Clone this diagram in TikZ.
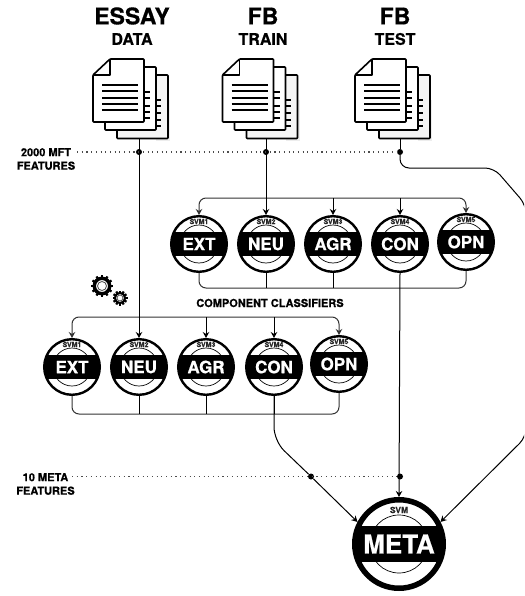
\documentclass[tikz,border=0pt]{standalone}
\usepackage{fontspec}
\setmainfont[BoldFeatures={FakeBold=0.6}]{TeX Gyre Heros}
\usepackage{tikz}
\usetikzlibrary{arrows.meta}

\tikzset{
  >={Stealth[length=6pt,width=6.5pt]},
  svmring/.style 2 args={circle,draw=black,fill=white,inner sep=0pt,text=white,
    path picture={
      \draw[line width=.7pt] (path picture bounding box.center) circle (#1);
      \fill[black] ([shift={(-60pt,#2)}]path picture bounding box.center) rectangle ([shift={(60pt,-#2)}]path picture bounding box.center);
    }},
  svmunit/.style={svmring={19pt}{12pt},line width=2.4pt,minimum size=55.6pt,font=\fontsize{17}{18}\bfseries},
  svmmeta/.style={svmring={29pt}{18pt},line width=5.5pt,minimum size=88.5pt,font=\fontsize{26}{28}\bfseries},
  svmtag/.style={inner sep=0pt,text=black!85,font=\fontsize{7}{8}\bfseries},
  wire/.style={line width=1pt,black},
  bus/.style={line width=1pt,black!80,rounded corners=7pt},
  dotline/.style={line width=1.1pt,black!70,dash pattern=on 1.1pt off 3.6pt},
  joint/.style={circle,fill=black,inner sep=0pt,minimum size=6pt},
  sidelabel/.style={align=center,inner sep=1pt,font=\fontsize{11}{13.5}\bfseries},
  sheet/.style={line width=1.6pt,line join=round,fill=white,rounded corners=.8pt},
}

\begin{document}
\begin{tikzpicture}[x=1pt,y=-1pt]
\clip[use as bounding box] (0,0) rectangle (524,596);
%
% titulos
\foreach \nm/\cx/\big/\small in {ess/132/ESSAY/DATA,trn/263/FB/TRAIN,tst/395/FB/TEST} {
  \node[inner sep=0pt,font=\fontsize{23}{24}\bfseries] (\nm big) at (\cx,16) {\big};
  \node[inner sep=0pt,font=\fontsize{16}{17}\bfseries] (\nm small) at (\cx,39) {\small};
}
%
% hojas
\foreach \dx in {0,129.5,262} {
\begin{scope}[shift={(\dx,0)}]
  \fill[black!7] (156,100) rectangle (170,141);
  \draw[sheet,fill=black!4] (117,75) rectangle (168,138.5);
  \foreach \yy in {100,106,113,120,126}
    \draw[line width=1.6pt] (150,\yy) -- (161,\yy);
  \draw[sheet] (105,67) rectangle (156,130);
  \foreach \yy in {92,98,106,112,118}
    \draw[line width=1.6pt] (140,\yy) -- (150,\yy);
  \draw[sheet] (110,59) -- (144,59) -- (144,122) -- (93,122) -- (93,75) -- cycle;
  \draw[line width=1.6pt,line join=round] (110,59) -- (110,75) -- (93,75);
  \foreach \yy in {85,91,98,104,110}
    \draw[line width=1.6pt] (102,\yy) -- (138,\yy);
\end{scope}
}
\coordinate (dess) at (139,139);
\coordinate (dtrn) at (266,139);
\coordinate (dtst) at (400,139);
%
% clasificadores
\foreach \nm/\cx/\cy/\sv/\lab in {t1/199/244/SVM1/EXT,t2/266/244/SVM2/NEU,t3/333/244/SVM3/AGR,
    t4/400/244/SVM4/CON,t5/466/242/SVM5/OPN,b1/72/367/SVM1/EXT,b2/139/367/SVM2/NEU,
    b3/206/367/SVM3/AGR,b4/274/367/SVM4/CON,b5/339/364/SVM5/OPN} {
  \node[svmunit] (\nm) at (\cx,\cy) {\lab};
  \node[svmtag] (\nm tag) at ([yshift=22.5pt]\nm.center) {\sv};
}
\node[svmmeta] (meta) at (399,544) {META};
\node[svmtag,font=\fontsize{8.5}{9}\bfseries] (metatag) at ([yshift=34pt]meta.center) {SVM};
%
\node[inner sep=0pt,font=\fontsize{11}{12}\bfseries] (compo) at (270,303) {COMPONENT CLASSIFIERS};
%
% rotulos y lineas punteadas
\node[sidelabel] (mftlab) at (46,159) {2000 MFT\\FEATURES};
\node[sidelabel] (metalab) at (45.5,484) {10 META\\FEATURES};
\node[joint] (mft1) at (139,152) {};
\node[joint] (mft2) at (266,152) {};
\node[joint] (mft3) at (400,152) {};
\node[joint] (mix1) at (311,476.5) {};
\node[joint] (mix2) at (400,476.5) {};
\coordinate (mftstart) at (77,152);
\coordinate (mixstart) at (72,476.5);
\draw[dotline] (mftstart) -- (mft3);
\draw[dotline] (mixstart) -- (mix2);
%
% barras de los dos grupos
\coordinate (tupper) at (0,198);
\coordinate (tlower) at (0,288);
\coordinate (bupper) at (0,317);
\coordinate (blower) at (0,414);
\draw[bus,<->] (t1.north) -- (t1.north |- tupper) -- (t5.north |- tupper) -- (t5.north);
\draw[bus] (t1.south) -- (t1.south |- tlower) -- (t5.south |- tlower) -- (t5.south);
\draw[bus,<->] (b1.north) -- (b1.north |- bupper) -- (b5.north |- bupper) -- (b5.north);
\draw[bus] (b1.south) -- (b1.south |- blower) -- (b5.south |- blower) -- (b5.south);
\foreach \nm in {t3,t4}
\draw[wire,->] (\nm.north |- tupper) -- (\nm.north);
\foreach \nm in {t2,t3}
\draw[wire] (\nm.south) -- (\nm.south |- tlower);
\draw[wire,->] (b3.north |- bupper) -- (b3.north);
\draw[wire,->] (b4.north |- bupper) -- (b4.north);
\foreach \nm in {b2,b3,b4}
\draw[wire] (\nm.south) -- (\nm.south |- blower);
%
% conexiones
\draw[wire,->] (dess) -- (b2.north);
\draw[wire,->] (dtrn) -- (t2.north);
\draw[wire] (dtst) -- (mft3);
\draw[wire,->] (t4.south) -- (meta.north);
\draw[wire,rounded corners=14pt] (b4.south) -- (274,441) -- (mix1);
\draw[wire,->] (mix1) -- (meta.152);
\draw[wire,rounded corners=9pt,->] (mft3) -- (400,168) -- (494,168) -- (526,205) -- (526,437) -- (meta.28);
%
% engranajes
\foreach \gx/\gy/\gr/\gh/\gb in {102/286/9.5/4.5/3.5,120/298/6/3/2} {
  \foreach \angulo in {0,30,...,330}
  \draw[line width=2.2pt] (\gx,\gy) ++(\angulo:\gr-1) -- ++(\angulo:2.5);
  \fill[black,even odd rule] (\gx,\gy) circle (\gr) circle (\gr-\gb);
  \draw[line width=.8pt,black!70] (\gx,\gy) circle (\gh);
}
\end{tikzpicture}
\end{document}
